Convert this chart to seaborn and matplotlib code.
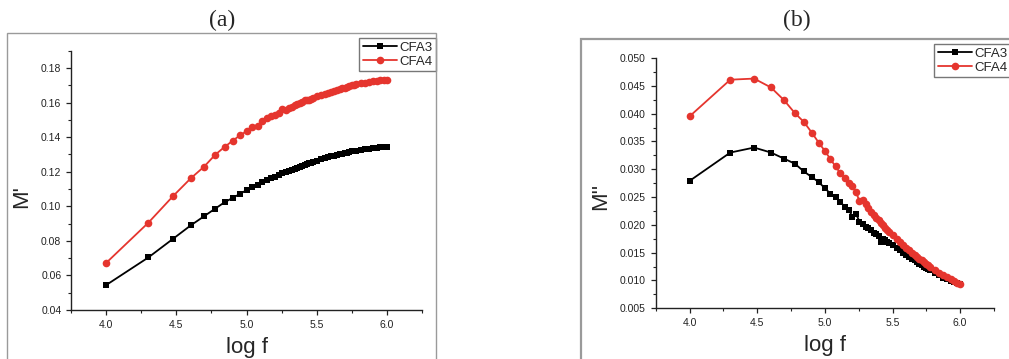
import numpy as np
import pandas as pd
import matplotlib
matplotlib.use('Agg')
import matplotlib.pyplot as plt
import seaborn as sns
from matplotlib.patches import Rectangle
from matplotlib.ticker import MultipleLocator, FormatStrFormatter

sns.set_style('ticks')
plt.rcParams['font.family'] = ['Liberation Sans', 'DejaVu Sans']

# measurement frequencies (kHz)
freq_khz = [10, 20, 30, 40, 50, 60, 70, 80, 90, 100,
            110, 120, 130, 140, 150, 160, 170, 180, 190, 200,
            210, 220, 230, 240, 250, 260, 270, 280, 290, 300,
            320, 340, 360, 380, 400, 420, 440, 460, 480, 500,
            520, 540, 560, 580, 600, 650, 700, 750, 800, 850,
            900, 950, 1000]

# M' (real part)
m1_cfa3 = [0.0544, 0.0704, 0.0812, 0.0889, 0.0943, 0.0987, 0.1024, 0.1049, 0.1072, 0.1093,
           0.1109, 0.1122, 0.1138, 0.1151, 0.1163, 0.1172, 0.1181, 0.1190, 0.1198, 0.1205,
           0.1212, 0.1218, 0.1224, 0.1230, 0.1235, 0.1240, 0.1245, 0.1249, 0.1253, 0.1257,
           0.1264, 0.1271, 0.1277, 0.1283, 0.1288, 0.1293, 0.1297, 0.1301, 0.1305, 0.1308,
           0.1311, 0.1314, 0.1317, 0.1320, 0.1322, 0.1327, 0.1331, 0.1334, 0.1337, 0.1339,
           0.1341, 0.1343, 0.1344]
m1_cfa4 = [0.0672, 0.0905, 0.1059, 0.1161, 0.1230, 0.1299, 0.1344, 0.1380, 0.1411, 0.1434,
           0.1457, 0.1463, 0.1494, 0.1509, 0.1520, 0.1530, 0.1540, 0.1560, 0.1558, 0.1567,
           0.1575, 0.1583, 0.1590, 0.1597, 0.1603, 0.1614, 0.1612, 0.1617, 0.1622, 0.1626,
           0.1636, 0.1643, 0.1650, 0.1657, 0.1663, 0.1668, 0.1673, 0.1678, 0.1683, 0.1687,
           0.1691, 0.1695, 0.1699, 0.1702, 0.1705, 0.1711, 0.1716, 0.1720, 0.1723, 0.1726,
           0.1728, 0.1730, 0.1731]

# M'' (imaginary part)
m2_cfa3 = [0.0279, 0.0330, 0.0339, 0.0330, 0.0319, 0.0310, 0.0296, 0.0286, 0.0277, 0.0266,
           0.0256, 0.0250, 0.0241, 0.0233, 0.0227, 0.0215, 0.0220, 0.0206, 0.0202, 0.0197,
           0.0194, 0.0190, 0.0186, 0.0183, 0.0180, 0.0170, 0.0175, 0.0172, 0.0169, 0.0167,
           0.0163, 0.0158, 0.0154, 0.0150, 0.0146, 0.0142, 0.0139, 0.0136, 0.0133, 0.0130,
           0.0127, 0.0124, 0.0122, 0.0120, 0.0118, 0.0113, 0.0109, 0.0105, 0.0102, 0.0099,
           0.0097, 0.0095, 0.0094]
m2_cfa4 = [0.0395, 0.0461, 0.0463, 0.0447, 0.0424, 0.0401, 0.0385, 0.0366, 0.0348, 0.0333,
           0.0318, 0.0305, 0.0293, 0.0285, 0.0276, 0.0269, 0.0259, 0.0243, 0.0245, 0.0237,
           0.0230, 0.0224, 0.0218, 0.0213, 0.0208, 0.0203, 0.0199, 0.0195, 0.0191, 0.0188,
           0.0181, 0.0175, 0.0169, 0.0164, 0.0159, 0.0154, 0.0150, 0.0146, 0.0142, 0.0139,
           0.0136, 0.0133, 0.0130, 0.0127, 0.0125, 0.0119, 0.0114, 0.0110, 0.0106, 0.0102,
           0.0099, 0.0096, 0.0094]

log_f = np.log10(np.array(freq_khz) * 1000.0)

def long_df(a, b):
    return pd.DataFrame({
        'log f': np.concatenate([log_f, log_f]),
        'M': np.concatenate([a, b]),
        'sample': ['CFA3'] * len(a) + ['CFA4'] * len(b),
    })

palette = {'CFA3': 'black', 'CFA4': '#e5352e'}
markers = {'CFA3': 's', 'CFA4': 'o'}

W, H = 1009, 359
fig = plt.figure(figsize=(W / 100, H / 100), dpi=100)

def px_rect(x0, y0, x1, y1):
    return [x0 / W, 1 - y1 / H, (x1 - x0) / W, (y1 - y0) / H]

# outer grey frames
for x0, y0, x1, y1, lw in [(7, 33, 436, 365, 1.0), (581, 39, 1015, 365, 1.6)]:
    fig.patches.append(Rectangle((x0 / W, 1 - y1 / H), (x1 - x0) / W, (y1 - y0) / H,
                                 transform=fig.transFigure, fill=False,
                                 edgecolor='#9a9a9a', linewidth=lw))

panels = [
    dict(rect=px_rect(71, 50.7, 422, 310), df=long_df(m1_cfa3, m1_cfa4), ylim=(0.04, 0.19),
         major=0.02, minor=0.01, fmt='%.2f', ylabel="M'", ylab=(-0.112, 0.436),
         leg=(436 / W, 1 - 38 / H), title='(a)', tx=222),
    dict(rect=px_rect(655.7, 58, 994, 308.3), df=long_df(m2_cfa3, m2_cfa4), ylim=(0.005, 0.050),
         major=0.005, minor=0.0025, fmt='%.3f', ylabel="M''", ylab=(-0.133, 0.445),
         leg=(1011 / W, 1 - 44 / H), title='(b)', tx=797),
]

for p in panels:
    ax = fig.add_axes(p['rect'])
    sns.lineplot(data=p['df'], x='log f', y='M', hue='sample', style='sample',
                 markers=markers, dashes=False, palette=palette, sort=False,
                 linewidth=1.3, markersize=5.5, markeredgewidth=0, ax=ax)
    # squares look bigger than circles at the same size
    for ln in ax.lines:
        if ln.get_marker() == 's':
            ln.set_markersize(4.6)
    ax.set_xlim(3.75, 6.25)
    ax.set_ylim(*p['ylim'])
    ax.xaxis.set_major_locator(MultipleLocator(0.5))
    ax.xaxis.set_minor_locator(MultipleLocator(0.25))
    ax.yaxis.set_major_locator(MultipleLocator(p['major']))
    ax.yaxis.set_minor_locator(MultipleLocator(p['minor']))
    ax.xaxis.set_major_formatter(FormatStrFormatter('%.1f'))
    ax.yaxis.set_major_formatter(FormatStrFormatter(p['fmt']))
    sns.despine(ax=ax)
    for s in ['left', 'bottom']:
        ax.spines[s].set_linewidth(1.0)
        ax.spines[s].set_color('#222222')
    ax.tick_params(which='major', length=3.5, width=0.9, labelsize=7.5, colors='#222222',
                   direction='out')
    ax.tick_params(which='minor', length=2, width=0.8, colors='#222222', direction='out')
    ax.set_xlabel('log f', fontsize=16, va='top')
    ax.xaxis.set_label_coords(0.5, -0.105)
    ax.set_ylabel(p['ylabel'], fontsize=16)
    ax.yaxis.set_label_coords(*p['ylab'])
    leg = ax.legend(loc='upper right', bbox_to_anchor=p['leg'], bbox_transform=fig.transFigure,
                    title=None, fontsize=9.5, frameon=True, fancybox=False, framealpha=1,
                    edgecolor='#777777', borderpad=0.25, handlelength=2.6, handletextpad=0.2,
                    labelspacing=0.15, borderaxespad=0)
    for h in leg.get_lines():
        if h.get_marker() == 's':
            h.set_markersize(4.6)
    fig.text(p['tx'] / W, 1 - 20 / H, p['title'], ha='center', va='center',
             fontsize=17, family=['Liberation Serif', 'DejaVu Serif'])

fig.savefig('out.png', dpi=100)
